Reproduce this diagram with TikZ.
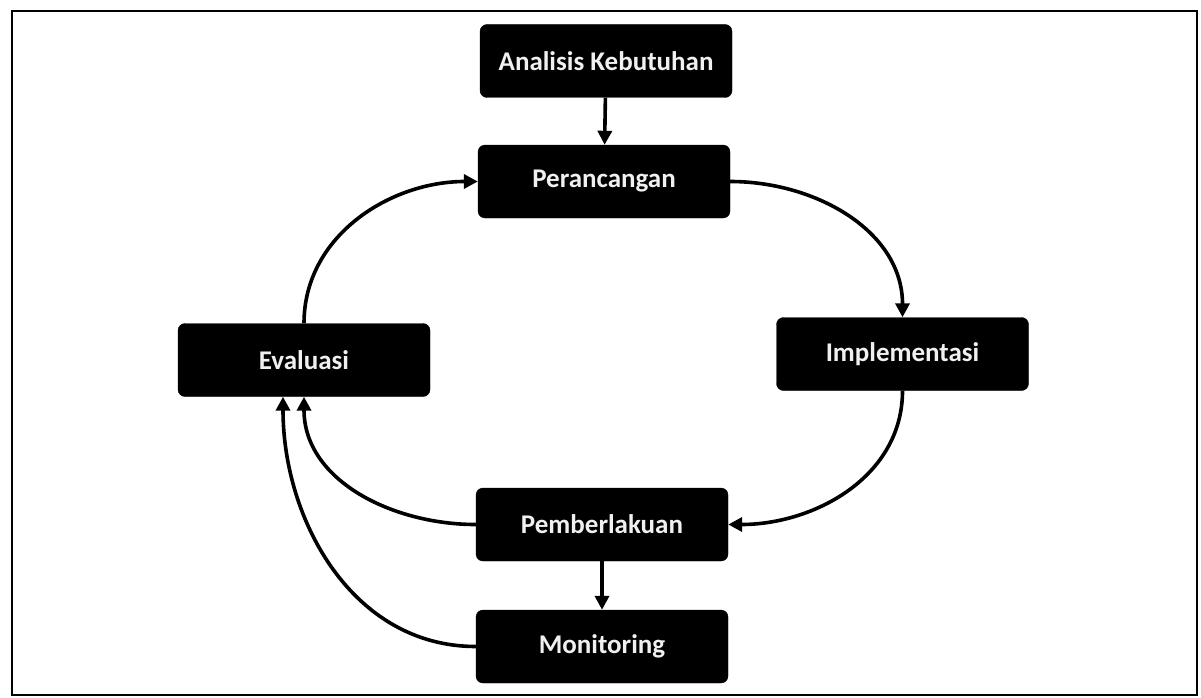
\documentclass[tikz,border=0pt]{standalone}
\usepackage{fontspec}
\setmainfont{Carlito}
\usetikzlibrary{arrows.meta,calc}
\tikzset{
  box/.style={fill=black, draw=black, rounded corners=7pt, minimum width=252pt, minimum height=73pt,
    text=white!94!black, font=\bfseries\fontsize{27}{31}\selectfont, inner sep=0pt},
  conn/.style={line width=3.6pt, -{Triangle[length=14pt,width=14pt]}}
}
\begin{document}
\begin{tikzpicture}[x=1pt,y=1pt]
\useasboundingbox (0,0) rectangle (1201,-698);
\fill[white] (0,0) rectangle (1201,-698);
\draw[line width=2.2pt] (12,-11) rectangle (1197,-695);
\node[box] (ana) at (606,-61) {Analisis Kebutuhan};
\node[box] (per) at (604,-181.5) {Perancangan};
\node[box] (imp) at (902.5,-354) {Implementasi};
\node[box] (eva) at (304,-360) {Evaluasi};
\node[box] (pem) at (602,-524.5) {Pemberlakuan};
\node[box] (mon) at (602,-646.5) {Monitoring};
\coordinate (evain) at ($(eva.south)+(-21,0)$);
\draw[conn] (ana) -- (per);
\draw[conn] (per.east) to[out=0,in=90] (imp.north);
\draw[conn] (imp.south) to[out=-90,in=0] (pem.east);
\draw[conn] (pem.west) to[out=180,in=-90] (eva.south);
\draw[conn] (mon.west) to[out=180,in=-90] (evain);
\draw[conn] (eva.north) to[out=90,in=180] (per.west);
\draw[conn] (pem) -- (mon);
\end{tikzpicture}
\end{document}
